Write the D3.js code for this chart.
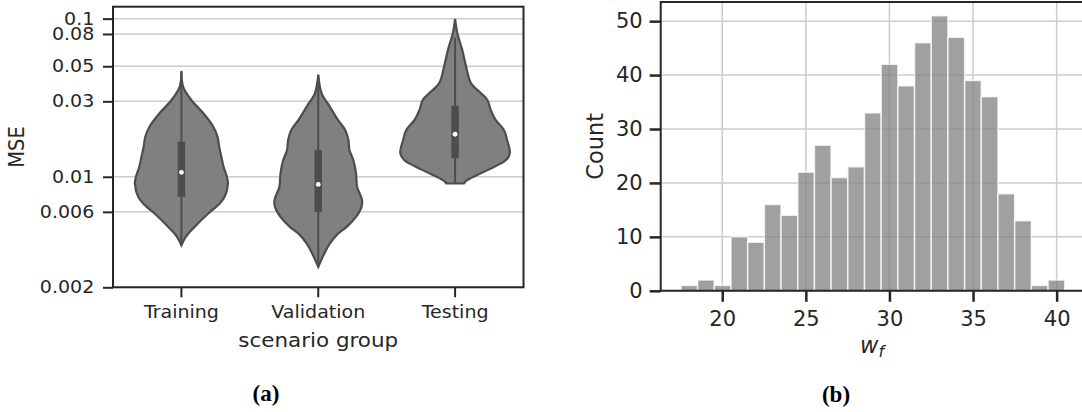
<!DOCTYPE html>
<html>
<head>
<meta charset="utf-8">
<script src="https://cdn.jsdelivr.net/npm/d3@7"></script>
<style>
  body { margin: 0; background: #fff; }
  svg text { font-family: "DejaVu Sans", sans-serif; fill: #262626; }
  .caption { font-family: "Liberation Serif", "Times New Roman", serif; font-weight: bold; fill: #000; }
</style>
</head>
<body>
<div id="chart"></div>
<script>
// (a) violin plot data: MSE per scenario group
var groups = ["Training", "Validation", "Testing"];
var mseTicks = [0.002, 0.006, 0.01, 0.03, 0.05, 0.08, 0.1];

// violin outline: MSE value and relative half width (top to bottom)
var trainingMse = [0.0468, 0.0372, 0.0306, 0.0252, 0.0208, 0.0179, 0.0155, 0.0134, 0.01156, 0.0100, 0.00907, 0.00747, 0.00678, 0.00586, 0.00482, 0.00417, 0.00369];
var trainingDensity = [0, 0.03, 0.18, 0.40, 0.58, 0.66, 0.69, 0.73, 0.77, 0.83, 0.85, 0.79, 0.70, 0.49, 0.24, 0.08, 0];
var validationMse = [0.0442, 0.0338, 0.0278, 0.0229, 0.0198, 0.0171, 0.01477, 0.01276, 0.01051, 0.00865, 0.00712, 0.00645, 0.00557, 0.00482, 0.00437, 0.00378, 0.00311, 0.00269];
var validationDensity = [0, 0.06, 0.21, 0.36, 0.49, 0.55, 0.57, 0.64, 0.69, 0.71, 0.80, 0.79, 0.69, 0.52, 0.36, 0.21, 0.08, 0];
var testingMse = [0.0995, 0.0811, 0.0636, 0.0499, 0.0391, 0.0338, 0.0306, 0.0265, 0.0229, 0.0198, 0.0171, 0.01406, 0.01276, 0.01102, 0.00952, 0.00907];
var testingDensity = [0, 0.04, 0.13, 0.20, 0.29, 0.47, 0.59, 0.65, 0.74, 0.89, 0.95, 1.0, 0.93, 0.59, 0.22, 0.16];

// box stats: [whisker low, q1, median, q3, whisker high]
var trainingBox = [0.0037, 0.00747, 0.01067, 0.01667, 0.046];
var validationBox = [0.0027, 0.0060, 0.00895, 0.01477, 0.044];
var testingBox = [0.0091, 0.0131, 0.01858, 0.0281, 0.076];

// (b) histogram of w_f
var wfCounts = [1, 2, 1, 10, 9, 16, 14, 22, 27, 21, 23, 33, 42, 38, 46, 51, 47, 39, 36, 18, 13, 1, 2];
var wfBinStart = 17.53, wfBinWidth = 0.998;
var wfTicks = [20, 25, 30, 35, 40];
var countTicks = [0, 10, 20, 30, 40, 50];

var violins = [
  {name: groups[0], mse: trainingMse, dens: trainingDensity, box: trainingBox},
  {name: groups[1], mse: validationMse, dens: validationDensity, box: validationBox},
  {name: groups[2], mse: testingMse, dens: testingDensity, box: testingBox}
];

var svg = d3.select("#chart").append("svg")
    .attr("width", 1082)
    .attr("height", 412);

var spineColor = "#262626", gridColor = "#cccccc";
// panel (a) was squeezed in the figure: its text is a bit wider than tall
var stretch = "scale(1.1,1)";

// ---------- panel (a) ----------
var a = {left: 113, right: 523.5, top: 6.7, bottom: 287.3};

var x = d3.scaleBand().domain(groups).range([a.left, a.right]);
var y = d3.scaleLog().domain([0.002, 0.119]).range([a.bottom, a.top]);
var half = x.bandwidth() * 0.4;

svg.append("g").selectAll("line")
    .data(mseTicks)
    .enter().append("line")
    .attr("x1", a.left).attr("x2", a.right)
    .attr("y1", function(d) { return y(d); })
    .attr("y2", function(d) { return y(d); })
    .style("stroke", gridColor).style("stroke-width", 1.5);

var area = d3.area()
    .curve(d3.curveCatmullRom.alpha(0.5))
    .y(function(d) { return y(d[0]); });

var vg = svg.append("g").selectAll("g")
    .data(violins)
    .enter().append("g")
    .attr("transform", function(d) { return "translate(" + (x(d.name) + x.bandwidth() / 2) + ",0)"; });

vg.append("path")
    .attr("d", function(d) {
      var pts = d.mse.map(function(m, i) { return [m, d.dens[i]]; });
      return area.x0(function(p) { return -p[1] * half; })
                 .x1(function(p) { return p[1] * half; })(pts);
    })
    .style("fill", "#808080")
    .style("stroke", "#4d4d4d")
    .style("stroke-width", 2.2);

// inner box
vg.append("line")
    .attr("y1", function(d) { return y(d.box[0]); })
    .attr("y2", function(d) { return y(d.box[4]); })
    .style("stroke", "#4d4d4d").style("stroke-width", 2);
vg.append("line")
    .attr("y1", function(d) { return y(d.box[1]); })
    .attr("y2", function(d) { return y(d.box[3]); })
    .style("stroke", "#4d4d4d").style("stroke-width", 7.5);
vg.append("circle")
    .attr("cy", function(d) { return y(d.box[2]); })
    .attr("r", 2.4)
    .style("fill", "#fff");

// frame
svg.append("rect")
    .attr("x", a.left).attr("y", a.top)
    .attr("width", a.right - a.left).attr("height", a.bottom - a.top)
    .style("fill", "none").style("stroke", spineColor).style("stroke-width", 2);

var yAxis = svg.append("g")
    .attr("transform", "translate(" + a.left + ",0)")
    .call(d3.axisLeft(y).tickValues(mseTicks).tickFormat(d3.format("~g")).tickSize(10).tickPadding(7));
var xAxis = svg.append("g")
    .attr("transform", "translate(0," + a.bottom + ")")
    .call(d3.axisBottom(x).tickSize(10).tickPadding(8));

[yAxis, xAxis].forEach(function(g) {
  g.select(".domain").remove();
  g.selectAll(".tick line").style("stroke", spineColor).style("stroke-width", 2);
  g.selectAll(".tick text").style("font-size", "17.3px").style("fill", spineColor)
    .style("font-family", "DejaVu Sans")
    .attr("transform", stretch);
});
xAxis.selectAll(".tick text").attr("dy", "0.75em");

svg.append("text")
    .attr("transform", "translate(24," + ((a.top + a.bottom) / 2) + ") " + stretch + " rotate(-90)")
    .attr("text-anchor", "middle")
    .style("font-size", "19.5px")
    .text("MSE");

svg.append("text")
    .attr("transform", "translate(" + ((a.left + a.right) / 2) + ",347) " + stretch)
    .attr("text-anchor", "middle")
    .style("font-size", "19.5px")
    .text("scenario group");

svg.append("text")
    .attr("class", "caption")
    .attr("x", 266).attr("y", 401)
    .attr("text-anchor", "middle")
    .style("font-size", "23px")
    .text("(a)");

// ---------- panel (b) ----------
var b = {left: 660.7, right: 1083.4, top: 2, bottom: 290.8};

var xb = d3.scaleLinear().domain([16.32, 41.6]).range([b.left, b.right]);
var yb = d3.scaleLinear().domain([0, 53.55]).range([b.bottom, b.top]);

var grid = svg.append("g");
grid.selectAll(".v").data(wfTicks).enter().append("line")
    .attr("x1", function(d) { return xb(d); }).attr("x2", function(d) { return xb(d); })
    .attr("y1", b.top).attr("y2", b.bottom);
grid.selectAll(".h").data(countTicks).enter().append("line")
    .attr("x1", b.left).attr("x2", b.right)
    .attr("y1", function(d) { return yb(d); }).attr("y2", function(d) { return yb(d); });
grid.selectAll("line").style("stroke", gridColor).style("stroke-width", 1.5);

svg.append("g").selectAll("rect")
    .data(wfCounts)
    .enter().append("rect")
    .attr("x", function(d, i) { return xb(wfBinStart + i * wfBinWidth); })
    .attr("width", function(d, i) { return xb(wfBinStart + (i + 1) * wfBinWidth) - xb(wfBinStart + i * wfBinWidth); })
    .attr("y", function(d) { return yb(d); })
    .attr("height", function(d) { return yb(0) - yb(d); })
    .style("fill", "#808080")
    .style("fill-opacity", 0.75)
    .style("stroke", "#fff")
    .style("stroke-opacity", 0.75)
    .style("stroke-width", 1.5);

svg.append("path")
    .attr("d", "M" + b.right + "," + b.top + "H" + b.left + "V" + b.bottom + "H" + b.right)
    .style("fill", "none").style("stroke", spineColor).style("stroke-width", 2);

var ybAxis = svg.append("g")
    .attr("transform", "translate(" + b.left + ",0)")
    .call(d3.axisLeft(yb).tickValues(countTicks).tickSize(11).tickPadding(7));
var xbAxis = svg.append("g")
    .attr("transform", "translate(0," + b.bottom + ")")
    .call(d3.axisBottom(xb).tickValues(wfTicks).tickSize(11).tickPadding(8));

[ybAxis, xbAxis].forEach(function(g) {
  g.select(".domain").remove();
  g.selectAll(".tick line").style("stroke", spineColor).style("stroke-width", 2.5);
  g.selectAll(".tick text").style("font-size", "21px").style("fill", spineColor)
    .style("font-family", "DejaVu Sans");
});
xbAxis.selectAll(".tick text").attr("dy", "0.75em");

svg.append("text")
    .attr("transform", "translate(603," + ((b.top + b.bottom) / 2) + ") rotate(-90)")
    .attr("text-anchor", "middle")
    .style("font-size", "22.5px")
    .text("Count");

var wl = svg.append("text")
    .attr("x", 872).attr("y", 353)
    .attr("text-anchor", "middle")
    .style("font-size", "22.5px")
    .style("font-style", "italic");
wl.append("tspan").text("w");
wl.append("tspan").attr("dy", 4).style("font-size", "16px").text("f");

svg.append("text")
    .attr("class", "caption")
    .attr("x", 836).attr("y", 402)
    .attr("text-anchor", "middle")
    .style("font-size", "23px")
    .text("(b)");
</script>
</body>
</html>
